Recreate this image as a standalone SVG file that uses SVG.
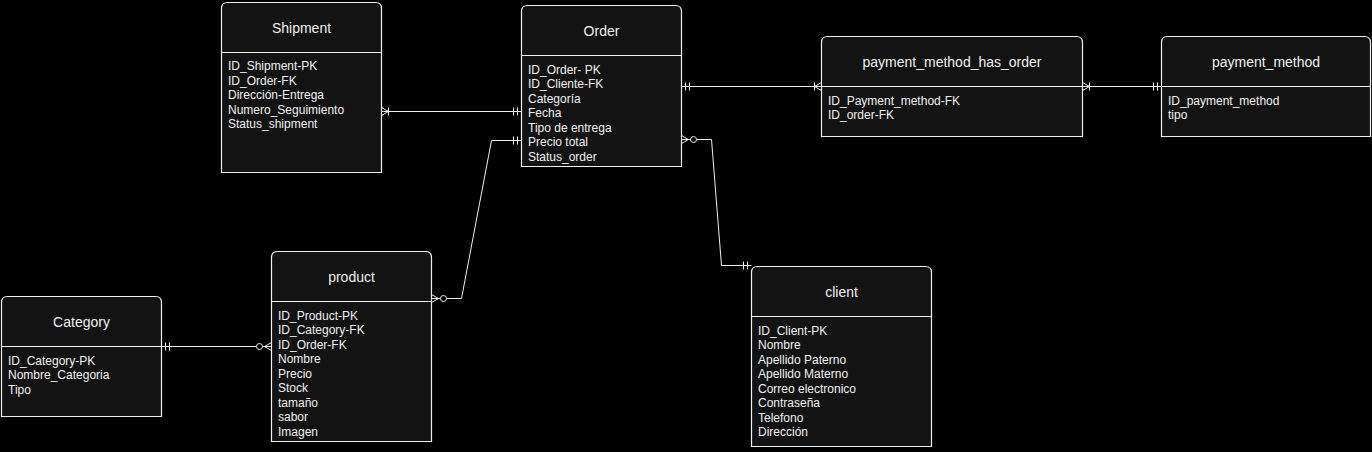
<svg xmlns="http://www.w3.org/2000/svg" width="1372" height="452" viewBox="0 0 1372 452">
<style>
.box{fill:#131313;stroke:#f0f0f0;stroke-width:1.2}
.div{stroke:#f0f0f0;stroke-width:1.2;fill:none}
.title{font-family:"Liberation Sans",Arial,sans-serif;font-size:14px;fill:#f0f0f0;text-anchor:middle}
.attr{font-family:"Liberation Sans",Arial,sans-serif;font-size:12px;fill:#f0f0f0}
.ln{stroke:#eeeeee;stroke-width:1;fill:none}
.circ{stroke:#eeeeee;stroke-width:1;fill:#000}
</style>
<rect width="1372" height="452" fill="#000"/>
<g id="connectors">
  <!-- Shipment - Order -->
  <path class="ln" d="M381.5,111.5 L521.5,111.5"/>
  <path class="ln" d="M381.5,107.5 L388.5,111.5 L381.5,115.5 M388.5,107.5 L388.5,115.5"/>
  <path class="ln" d="M513.5,107.5 L513.5,115.5 M517.5,107.5 L517.5,115.5"/>
  <!-- Order - payment_method_has_order -->
  <path class="ln" d="M681.5,86.5 L821.5,86.5"/>
  <path class="ln" d="M685.5,82.5 L685.5,90.5 M689.5,82.5 L689.5,90.5"/>
  <path class="ln" d="M821.5,82.5 L814.5,86.5 L821.5,90.5 M814.5,82.5 L814.5,90.5"/>
  <!-- payment_method_has_order - payment_method -->
  <path class="ln" d="M1082.5,86.5 L1161.5,86.5"/>
  <path class="ln" d="M1082.5,82.5 L1089.5,86.5 L1082.5,90.5 M1089.5,82.5 L1089.5,90.5"/>
  <path class="ln" d="M1153.5,82.5 L1153.5,90.5 M1157.5,82.5 L1157.5,90.5"/>
  <!-- product - Order -->
  <path class="ln" d="M431.5,298.5 L461.5,298.5 L491.5,140.5 L521.5,140.5"/>
  <path class="ln" d="M431.5,294.5 L438.5,298.5 L431.5,302.5"/>
  <circle class="circ" cx="443.5" cy="298.5" r="3"/>
  <path class="ln" d="M513.5,136.5 L513.5,144.5 M517.5,136.5 L517.5,144.5"/>
  <!-- Order - client -->
  <path class="ln" d="M681.5,139.5 L711.5,139.5 L721.5,265.5 L751.5,265.5"/>
  <path class="ln" d="M681.5,135.5 L688.5,139.5 L681.5,143.5"/>
  <circle class="circ" cx="693.5" cy="139.5" r="3"/>
  <path class="ln" d="M743.5,261.5 L743.5,269.5 M747.5,261.5 L747.5,269.5"/>
  <!-- Category - product -->
  <path class="ln" d="M161.5,346.5 L271.5,346.5"/>
  <path class="ln" d="M165.5,342.5 L165.5,350.5 M169.5,342.5 L169.5,350.5"/>
  <path class="ln" d="M271.5,342.5 L264.5,346.5 L271.5,350.5"/>
  <circle class="circ" cx="259.5" cy="346.5" r="3"/>
</g>
<g id="shipment">
  <path class="box" d="M221.5,172.5 L221.5,8.5 Q221.5,2.5 227.5,2.5 L375.5,2.5 Q381.5,2.5 381.5,8.5 L381.5,172.5 Z"/>
  <path class="div" d="M221.5,52.5 L381.5,52.5"/>
  <text class="title" x="301.5" y="32.5">Shipment</text>
  <text class="attr" x="228" y="70">ID_Shipment-PK</text>
  <text class="attr" x="228" y="84.5">ID_Order-FK</text>
  <text class="attr" x="228" y="99">Dirección-Entrega</text>
  <text class="attr" x="228" y="113.5">Numero_Seguimiento</text>
  <text class="attr" x="228" y="128">Status_shipment</text>
</g>
<g id="order">
  <path class="box" d="M521.5,166.5 L521.5,11.5 Q521.5,5.5 527.5,5.5 L675.5,5.5 Q681.5,5.5 681.5,11.5 L681.5,166.5 Z"/>
  <path class="div" d="M521.5,55.5 L681.5,55.5"/>
  <text class="title" x="601.5" y="35.5">Order</text>
  <text class="attr" x="528" y="73.5">ID_Order- PK</text>
  <text class="attr" x="528" y="88">ID_Cliente-FK</text>
  <text class="attr" x="528" y="102.5">Categoría</text>
  <text class="attr" x="528" y="117">Fecha</text>
  <text class="attr" x="528" y="131.5">Tipo de entrega</text>
  <text class="attr" x="528" y="146">Precio total</text>
  <text class="attr" x="528" y="160.5">Status_order</text>
</g>
<g id="payment_method_has_order">
  <path class="box" d="M821.5,136.5 L821.5,42.5 Q821.5,36.5 827.5,36.5 L1076.5,36.5 Q1082.5,36.5 1082.5,42.5 L1082.5,136.5 Z"/>
  <path class="div" d="M821.5,86.5 L1082.5,86.5"/>
  <text class="title" x="952" y="66.5">payment_method_has_order</text>
  <text class="attr" x="828" y="104.5">ID_Payment_method-FK</text>
  <text class="attr" x="828" y="119">ID_order-FK</text>
</g>
<g id="payment_method">
  <path class="box" d="M1161.5,136.5 L1161.5,42.5 Q1161.5,36.5 1167.5,36.5 L1364.5,36.5 Q1370.5,36.5 1370.5,42.5 L1370.5,136.5 Z"/>
  <path class="div" d="M1161.5,86.5 L1370.5,86.5"/>
  <text class="title" x="1266" y="66.5">payment_method</text>
  <text class="attr" x="1168" y="104.5">ID_payment_method</text>
  <text class="attr" x="1168" y="119">tipo</text>
</g>
<g id="category">
  <path class="box" d="M1.5,416.5 L1.5,302.5 Q1.5,296.5 7.5,296.5 L155.5,296.5 Q161.5,296.5 161.5,302.5 L161.5,416.5 Z"/>
  <path class="div" d="M1.5,346.5 L161.5,346.5"/>
  <text class="title" x="81.5" y="326.5">Category</text>
  <text class="attr" x="8" y="364.5">ID_Category-PK</text>
  <text class="attr" x="8" y="379">Nombre_Categoria</text>
  <text class="attr" x="8" y="393.5">Tipo</text>
</g>
<g id="product">
  <path class="box" d="M271.5,441.5 L271.5,257.5 Q271.5,251.5 277.5,251.5 L425.5,251.5 Q431.5,251.5 431.5,257.5 L431.5,441.5 Z"/>
  <path class="div" d="M271.5,301.5 L431.5,301.5"/>
  <text class="title" x="351.5" y="281.5">product</text>
  <text class="attr" x="278" y="319.5">ID_Product-PK</text>
  <text class="attr" x="278" y="334">ID_Category-FK</text>
  <text class="attr" x="278" y="348.5">ID_Order-FK</text>
  <text class="attr" x="278" y="363">Nombre</text>
  <text class="attr" x="278" y="377.5">Precio</text>
  <text class="attr" x="278" y="392">Stock</text>
  <text class="attr" x="278" y="406.5">tamaño</text>
  <text class="attr" x="278" y="421">sabor</text>
  <text class="attr" x="278" y="435.5">Imagen</text>
</g>
<g id="client">
  <path class="box" d="M751.5,446.5 L751.5,272.5 Q751.5,266.5 757.5,266.5 L925.5,266.5 Q931.5,266.5 931.5,272.5 L931.5,446.5 Z"/>
  <path class="div" d="M751.5,316.5 L931.5,316.5"/>
  <text class="title" x="841.5" y="296.5">client</text>
  <text class="attr" x="758" y="334.5">ID_Client-PK</text>
  <text class="attr" x="758" y="349">Nombre</text>
  <text class="attr" x="758" y="363.5">Apellido Paterno</text>
  <text class="attr" x="758" y="378">Apellido Materno</text>
  <text class="attr" x="758" y="392.5">Correo electronico</text>
  <text class="attr" x="758" y="407">Contraseña</text>
  <text class="attr" x="758" y="421.5">Telefono</text>
  <text class="attr" x="758" y="436">Dirección</text>
</g>
</svg>
